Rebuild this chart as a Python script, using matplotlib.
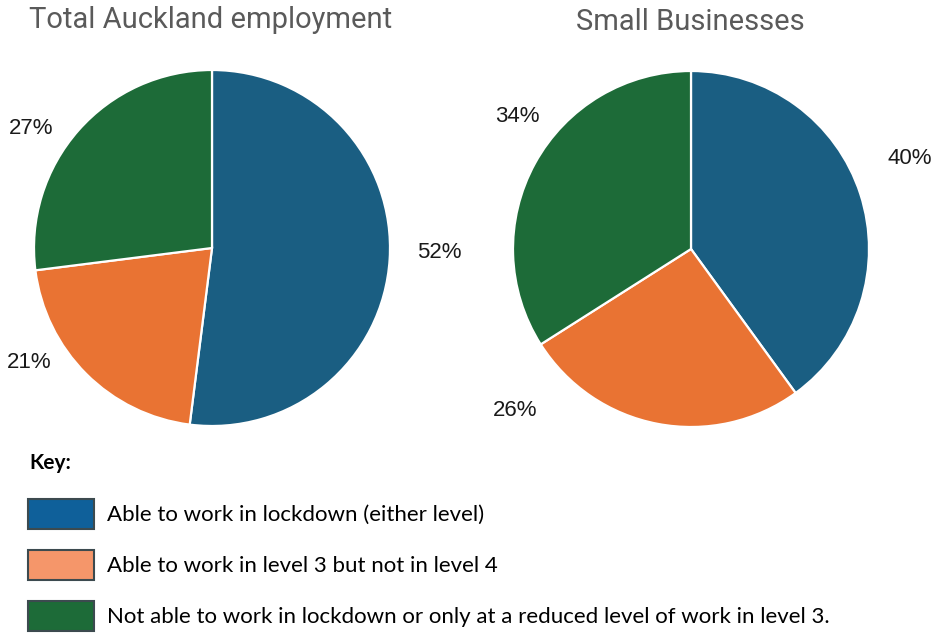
import matplotlib
matplotlib.use("Agg")
import matplotlib.pyplot as plt
from matplotlib.patches import Patch

# data
categories = ["Able to work in lockdown (either level)",
              "Able to work in level 3 but not in level 4",
              "Not able to work in lockdown or only at a reduced level of work in level 3."]
total_vals = [52, 21, 27]
small_vals = [40, 26, 34]
titles = ["Total Auckland employment", "Small Businesses"]

pie_colors = ["#1a5e82", "#e97333", "#1d6b38"]
key_colors = ["#0f609a", "#f5966a", "#1d6b38"]

# where Excel put the percentage labels (in pie-radius units)
label_pos = [
    [(1.275, -0.028), (-1.025, -0.646), (-1.017, 0.670)],
    [(1.228, 0.506), (-0.989, -0.910), (-0.978, 0.747)],
]

fig = plt.figure(figsize=(9.34, 6.37), dpi=100)

W, H = 934, 637
r = 178
centers = [(212, 248), (691, 249)]
title_xy = [(211, 20), (690, 22)]

for i, vals in enumerate([total_vals, small_vals]):
    cx, cy = centers[i]
    ax = fig.add_axes([(cx - r) / W, (H - cy - r) / H, 2 * r / W, 2 * r / H])
    wedges, texts = ax.pie(vals, colors=pie_colors, startangle=90, counterclock=False,
                           labels=[f"{v}%" for v in vals], labeldistance=1.2,
                           wedgeprops=dict(edgecolor="white", linewidth=1.6),
                           textprops=dict(fontsize=16, family="Liberation Sans", color="#1a1a1a"))
    for t, (lx, ly) in zip(texts, label_pos[i]):
        t.set_position((lx, ly))
        t.set_ha("center")
        t.set_va("center")
    ax.set_xlim(-1, 1)
    ax.set_ylim(-1, 1)
    ax.set_aspect("equal")
    ax.axis("off")
    tx, ty = title_xy[i]
    fig.text(tx / W, 1 - ty / H, titles[i], ha="center", va="center",
             fontsize=21, color="#5a5a5a", family="Roboto")

# key
fig.text(29 / W, 1 - 463 / H, "Key:", ha="left", va="center", fontsize=15,
         fontweight="bold", family="Lato")

handles = [Patch(facecolor=c, edgecolor="#3c4a4f", linewidth=1.5) for c in key_colors]
fig.legend(handles, categories, loc="upper left", bbox_to_anchor=(28 / W, 1 - 499 / H),
           frameon=False, borderpad=0, borderaxespad=0,
           prop=dict(family="Lato", size=16),
           handlelength=2.97, handleheight=1.7, handletextpad=0.59, labelspacing=0.95)

fig.savefig("out.png", dpi=100)
